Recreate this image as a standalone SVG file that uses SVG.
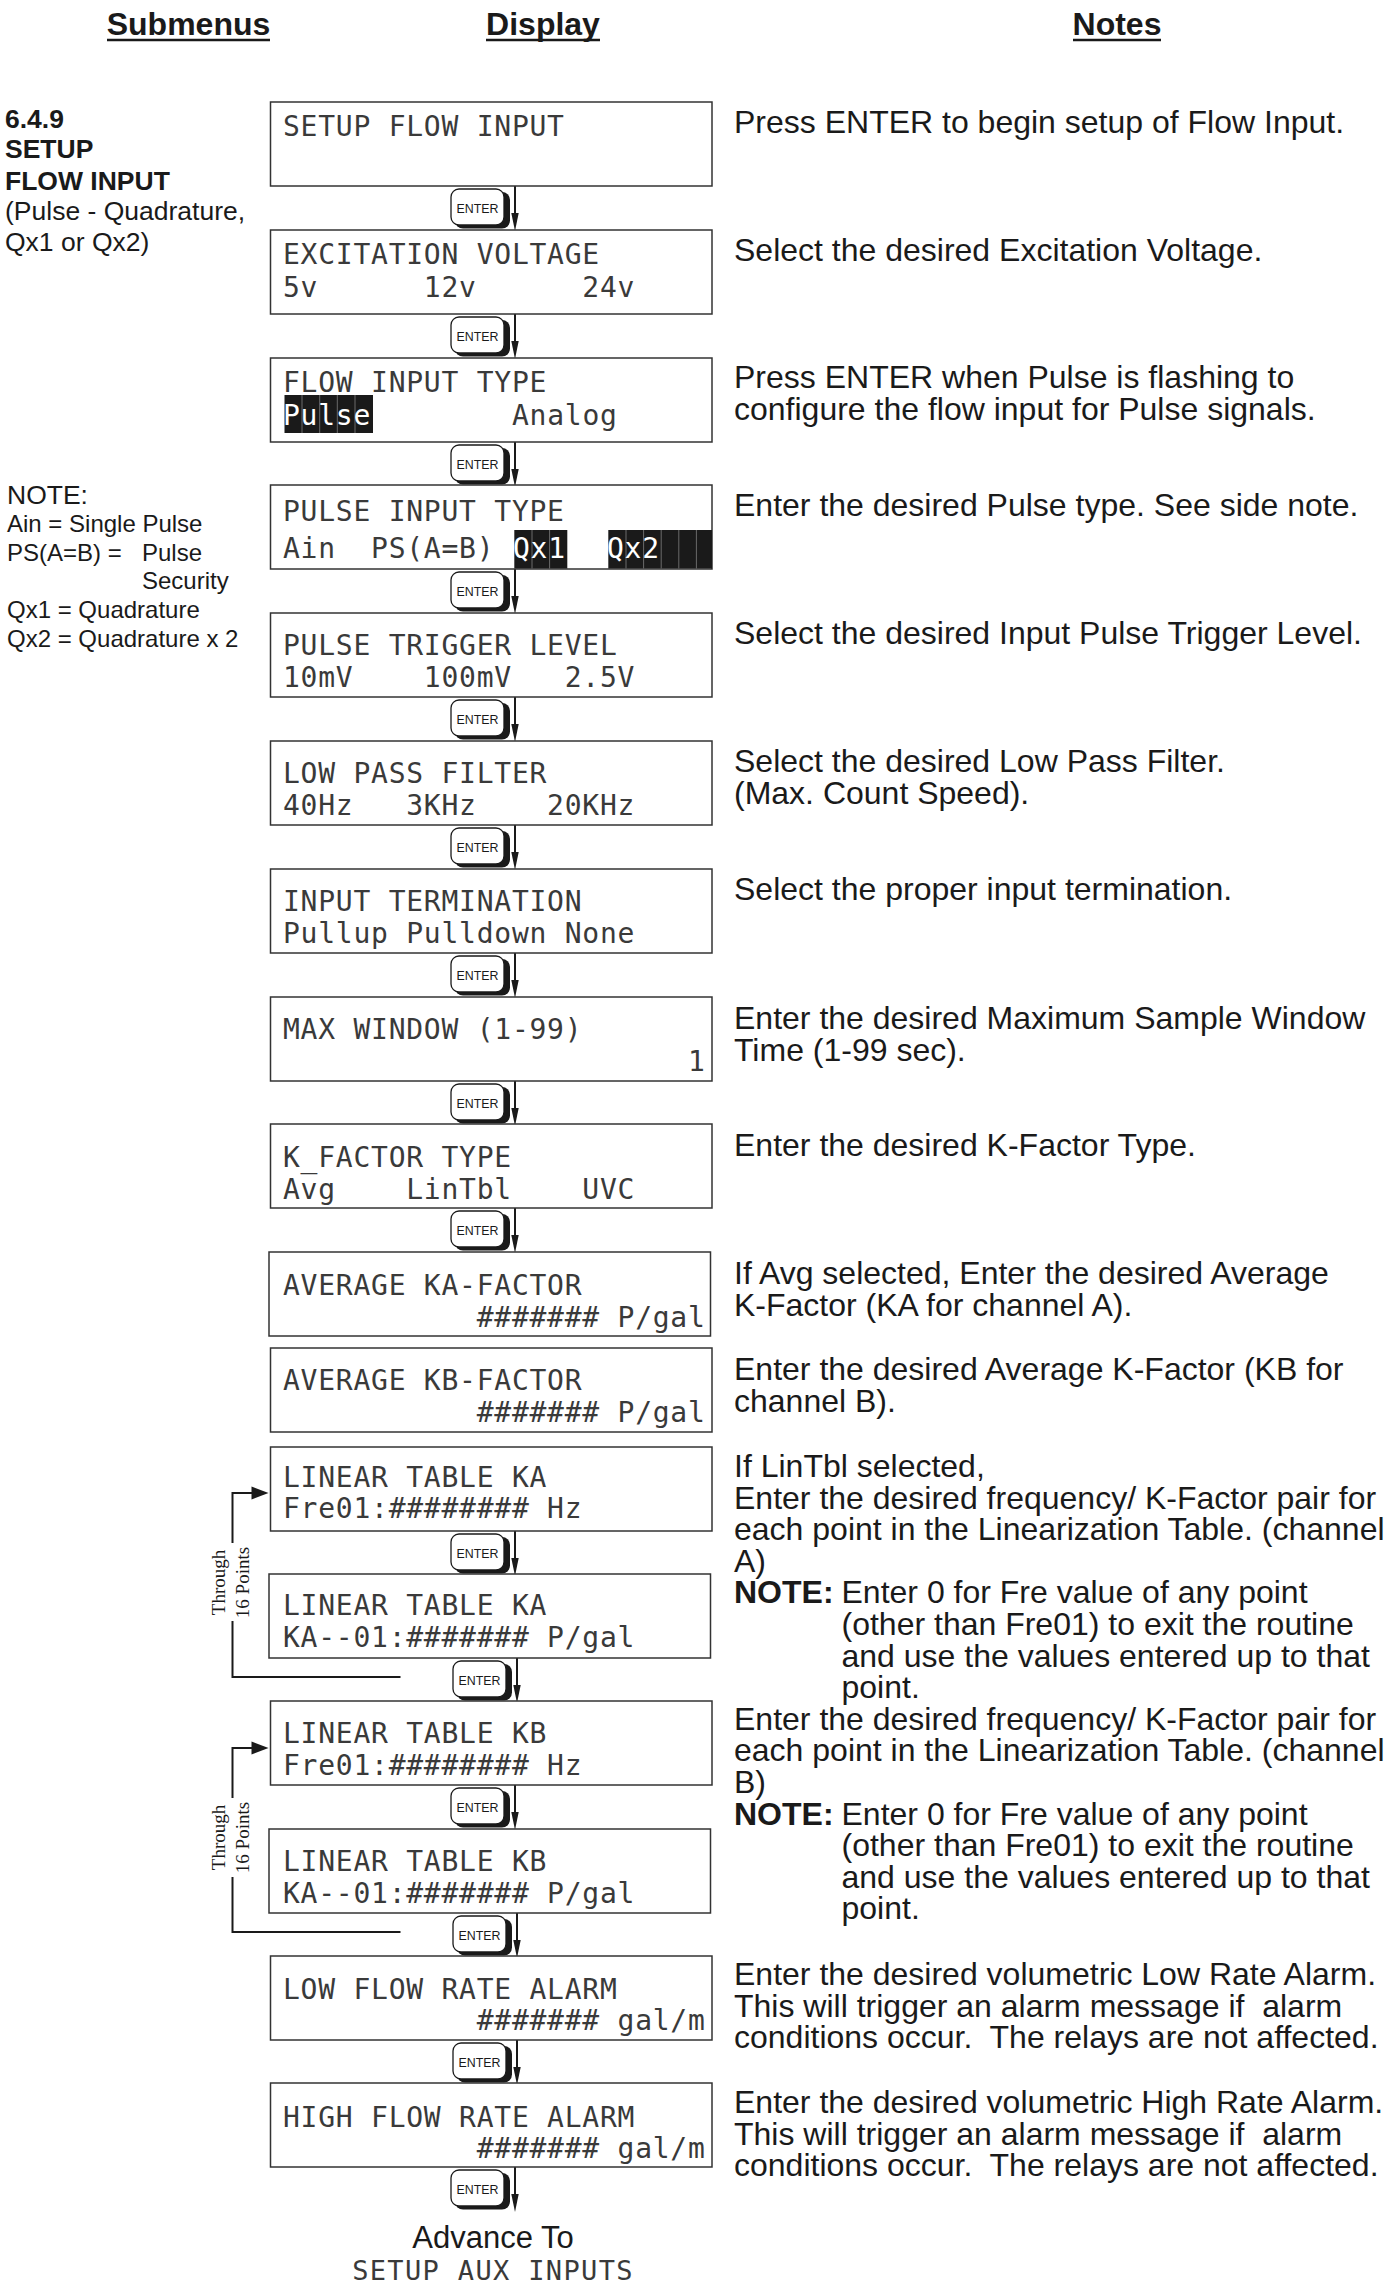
<svg xmlns="http://www.w3.org/2000/svg" xmlns:xlink="http://www.w3.org/1999/xlink" width="1400" height="2287" viewBox="0 0 1400 2287">
<style>
  .bg { fill: #ffffff; }
  .box { fill: #ffffff; stroke: #333333; stroke-width: 1.5; }
  .lcd { font-family: "DejaVu Sans Mono", "Liberation Mono", monospace; font-size: 28px; letter-spacing: 0.75px; fill: #3a3a3a; white-space: pre; }
  .lcdw { font-family: "DejaVu Sans Mono", "Liberation Mono", monospace; font-size: 28px; letter-spacing: 0.75px; fill: #ffffff; white-space: pre; }
  .hl { fill: #1a1a1a; }
  .sep { stroke: #6a6a6a; stroke-width: 1; }
  .hdr { font-family: "Liberation Sans", Arial, Helvetica, sans-serif; font-weight: bold; font-size: 32px; fill: #1a1a1a; text-anchor: middle; }
  .ul { stroke: #1a1a1a; stroke-width: 2.5; }
  .note { font-family: "Liberation Sans", Arial, Helvetica, sans-serif; font-size: 32px; fill: #1a1a1a; white-space: pre; }
  .noteb { font-family: "Liberation Sans", Arial, Helvetica, sans-serif; font-size: 32px; font-weight: bold; fill: #1a1a1a; }
  .sideb { font-family: "Liberation Sans", Arial, Helvetica, sans-serif; font-size: 26.5px; font-weight: bold; fill: #1a1a1a; }
  .side { font-family: "Liberation Sans", Arial, Helvetica, sans-serif; font-size: 26.5px; fill: #1a1a1a; }
  .sidenote { font-family: "Liberation Sans", Arial, Helvetica, sans-serif; font-size: 24px; fill: #1a1a1a; }
  .keytxt { font-family: "Liberation Sans", Arial, Helvetica, sans-serif; font-size: 13px; fill: #1a1a1a; text-anchor: middle; }
  .conn { stroke: #1a1a1a; stroke-width: 2; fill: none; }
  .head { fill: #1a1a1a; }
  .thr { font-family: "Liberation Serif", "Times New Roman", serif; font-size: 19px; fill: #1a1a1a; text-anchor: middle; }
  .adv { font-family: "Liberation Sans", Arial, Helvetica, sans-serif; font-size: 31px; fill: #1a1a1a; text-anchor: middle; }
</style>
<defs>
  <g id="key">
    <rect x="455" y="6" width="55" height="36.5" rx="8" fill="#1a1a1a"/>
    <rect x="451" y="3" width="53" height="36" rx="8" fill="#ffffff" stroke="#1a1a1a" stroke-width="1.3"/>
    <line x1="515" y1="0" x2="515" y2="29" stroke="#1a1a1a" stroke-width="2"/>
    <polygon points="511.3,27 518.7,27 515,45" fill="#1a1a1a"/>
  </g>
</defs>
<rect class="bg" x="0" y="0" width="1400" height="2287"/>

<g id="headers">
  <text class="hdr" x="188.5" y="35">Submenus</text>
  <line class="ul" x1="107" y1="40" x2="270" y2="40"/>
  <text class="hdr" x="543" y="35">Display</text>
  <line class="ul" x1="486" y1="40" x2="600" y2="40"/>
  <text class="hdr" x="1117" y="35">Notes</text>
  <line class="ul" x1="1073" y1="40" x2="1161" y2="40"/>
</g>

<g id="submenu-title">
  <text class="sideb" x="5" y="127.5">6.4.9</text>
  <text class="sideb" x="5" y="158.3">SETUP</text>
  <text class="sideb" x="5" y="190">FLOW INPUT</text>
  <text class="side" x="5" y="220">(Pulse - Quadrature,</text>
  <text class="side" x="5" y="251">Qx1 or Qx2)</text>
</g>

<g id="side-note">
  <text class="side" x="7" y="504">NOTE:</text>
  <text class="sidenote" x="7" y="532">Ain = Single Pulse</text>
  <text class="sidenote" x="7" y="561">PS(A=B) =</text>
  <text class="sidenote" x="142" y="561">Pulse</text>
  <text class="sidenote" x="142" y="589">Security</text>
  <text class="sidenote" x="7" y="618">Qx1 = Quadrature</text>
  <text class="sidenote" x="7" y="647">Qx2 = Quadrature x 2</text>
</g>

<g id="connectors">
  <use xlink:href="#key" transform="translate(0,186)"/>
  <use xlink:href="#key" transform="translate(0,314)"/>
  <use xlink:href="#key" transform="translate(0,442)"/>
  <use xlink:href="#key" transform="translate(0,569)"/>
  <use xlink:href="#key" transform="translate(0,697)"/>
  <use xlink:href="#key" transform="translate(0,825)"/>
  <use xlink:href="#key" transform="translate(0,953)"/>
  <use xlink:href="#key" transform="translate(0,1081)"/>
  <use xlink:href="#key" transform="translate(0,1208)"/>
  <use xlink:href="#key" transform="translate(0,1531)"/>
  <use xlink:href="#key" transform="translate(2,1658)"/>
  <use xlink:href="#key" transform="translate(0,1785)"/>
  <use xlink:href="#key" transform="translate(2,1913)"/>
  <use xlink:href="#key" transform="translate(2,2040)"/>
  <use xlink:href="#key" transform="translate(0,2167)"/>
  <text class="keytxt" x="477.5" y="213" textLength="42" lengthAdjust="spacingAndGlyphs">ENTER</text>
  <text class="keytxt" x="477.5" y="341" textLength="42" lengthAdjust="spacingAndGlyphs">ENTER</text>
  <text class="keytxt" x="477.5" y="469" textLength="42" lengthAdjust="spacingAndGlyphs">ENTER</text>
  <text class="keytxt" x="477.5" y="596" textLength="42" lengthAdjust="spacingAndGlyphs">ENTER</text>
  <text class="keytxt" x="477.5" y="724" textLength="42" lengthAdjust="spacingAndGlyphs">ENTER</text>
  <text class="keytxt" x="477.5" y="852" textLength="42" lengthAdjust="spacingAndGlyphs">ENTER</text>
  <text class="keytxt" x="477.5" y="980" textLength="42" lengthAdjust="spacingAndGlyphs">ENTER</text>
  <text class="keytxt" x="477.5" y="1108" textLength="42" lengthAdjust="spacingAndGlyphs">ENTER</text>
  <text class="keytxt" x="477.5" y="1235" textLength="42" lengthAdjust="spacingAndGlyphs">ENTER</text>
  <text class="keytxt" x="477.5" y="1558" textLength="42" lengthAdjust="spacingAndGlyphs">ENTER</text>
  <text class="keytxt" x="479.5" y="1685" textLength="42" lengthAdjust="spacingAndGlyphs">ENTER</text>
  <text class="keytxt" x="477.5" y="1812" textLength="42" lengthAdjust="spacingAndGlyphs">ENTER</text>
  <text class="keytxt" x="479.5" y="1940" textLength="42" lengthAdjust="spacingAndGlyphs">ENTER</text>
  <text class="keytxt" x="479.5" y="2067" textLength="42" lengthAdjust="spacingAndGlyphs">ENTER</text>
  <text class="keytxt" x="477.5" y="2194" textLength="42" lengthAdjust="spacingAndGlyphs">ENTER</text>

  <!-- loop channel A -->
  <polyline class="conn" points="400.5,1677 232.5,1677 232.5,1621"/>
  <polyline class="conn" points="232.5,1543 232.5,1493 253,1493"/>
  <polygon class="head" points="251.5,1486.5 268.5,1493 251.5,1499.5"/>
  <text class="thr" transform="translate(225,1582.5) rotate(-90)">Through</text>
  <text class="thr" transform="translate(249,1582.5) rotate(-90)">16 Points</text>

  <!-- loop channel B -->
  <polyline class="conn" points="400.5,1932 232.5,1932 232.5,1877"/>
  <polyline class="conn" points="232.5,1798 232.5,1748 253,1748"/>
  <polygon class="head" points="251.5,1741.5 268.5,1748 251.5,1754.5"/>
  <text class="thr" transform="translate(225,1837.5) rotate(-90)">Through</text>
  <text class="thr" transform="translate(249,1837.5) rotate(-90)">16 Points</text>
</g>

<g id="n01">
  <rect class="box" x="270.5" y="102" width="441.5" height="84"/>
  <text class="lcd" x="283" y="136">SETUP FLOW INPUT</text>
  <text class="note" x="734" y="132.6">Press ENTER to begin setup of Flow Input.</text>
</g>

<g id="n02">
  <rect class="box" x="270.5" y="230" width="441.5" height="84"/>
  <text class="lcd" x="283" y="264">EXCITATION VOLTAGE</text>
  <text class="lcd" x="283" y="297" xml:space="preserve">5v      12v      24v</text>
  <text class="note" x="734" y="260.5">Select the desired Excitation Voltage.</text>
</g>

<g id="n03">
  <rect class="box" x="270.5" y="358" width="441.5" height="84"/>
  <text class="lcd" x="283" y="392">FLOW INPUT TYPE</text>
  <rect class="hl" x="284.5" y="395" width="88.5" height="38"/>
  <line class="sep" x1="302" y1="395" x2="302" y2="433"/>
  <line class="sep" x1="319.7" y1="395" x2="319.7" y2="433"/>
  <line class="sep" x1="337.3" y1="395" x2="337.3" y2="433"/>
  <line class="sep" x1="355" y1="395" x2="355" y2="433"/>
  <text class="lcdw" x="283" y="425">Pulse</text>
  <text class="lcd" x="512" y="425">Analog</text>
  <text class="note" x="734" y="387.5">Press ENTER when Pulse is flashing to</text>
  <text class="note" x="734" y="419.5">configure the flow input for Pulse signals.</text>
</g>

<g id="n04">
  <rect class="box" x="270.5" y="485" width="441.5" height="84"/>
  <text class="lcd" x="283" y="521">PULSE INPUT TYPE</text>
  <text class="lcd" x="283" y="558" xml:space="preserve">Ain  PS(A=B)</text>
  <rect class="hl" x="514.3" y="530" width="53" height="38.5"/>
  <line class="sep" x1="532" y1="530" x2="532" y2="568.5"/>
  <line class="sep" x1="549.6" y1="530" x2="549.6" y2="568.5"/>
  <text class="lcdw" x="513" y="558">Qx1</text>
  <rect class="hl" x="608.3" y="530" width="103.7" height="38.5"/>
  <line class="sep" x1="626" y1="530" x2="626" y2="568.5"/>
  <line class="sep" x1="643.6" y1="530" x2="643.6" y2="568.5"/>
  <line class="sep" x1="661.2" y1="530" x2="661.2" y2="568.5"/>
  <line class="sep" x1="678.8" y1="530" x2="678.8" y2="568.5"/>
  <line class="sep" x1="696.4" y1="530" x2="696.4" y2="568.5"/>
  <text class="lcdw" x="607" y="558">Qx2</text>
  <text class="note" x="734" y="515.6">Enter the desired Pulse type. See side note.</text>
</g>

<g id="n05">
  <rect class="box" x="270.5" y="613" width="441.5" height="84"/>
  <text class="lcd" x="283" y="655">PULSE TRIGGER LEVEL</text>
  <text class="lcd" x="283" y="687" xml:space="preserve">10mV    100mV   2.5V</text>
  <text class="note" x="734" y="643.7">Select the desired Input Pulse Trigger Level.</text>
</g>

<g id="n06">
  <rect class="box" x="270.5" y="741" width="441.5" height="84"/>
  <text class="lcd" x="283" y="783">LOW PASS FILTER</text>
  <text class="lcd" x="283" y="815" xml:space="preserve">40Hz   3KHz    20KHz</text>
  <text class="note" x="734" y="772">Select the desired Low Pass Filter.</text>
  <text class="note" x="734" y="804">(Max. Count Speed).</text>
</g>

<g id="n07">
  <rect class="box" x="270.5" y="869" width="441.5" height="84"/>
  <text class="lcd" x="283" y="911">INPUT TERMINATION</text>
  <text class="lcd" x="283" y="943">Pullup Pulldown None</text>
  <text class="note" x="734" y="900">Select the proper input termination.</text>
</g>

<g id="n08">
  <rect class="box" x="270.5" y="997" width="441.5" height="84"/>
  <text class="lcd" x="283" y="1039">MAX WINDOW (1-99)</text>
  <text class="lcd" x="688" y="1071">1</text>
  <text class="note" x="734" y="1028.5">Enter the desired Maximum Sample Window</text>
  <text class="note" x="734" y="1060.5">Time (1-99 sec).</text>
</g>

<g id="n09">
  <rect class="box" x="270.5" y="1124" width="441.5" height="84"/>
  <text class="lcd" x="283" y="1167">K_FACTOR TYPE</text>
  <text class="lcd" x="283" y="1199" xml:space="preserve">Avg    LinTbl    UVC</text>
  <text class="note" x="734" y="1155.5">Enter the desired K-Factor Type.</text>
</g>

<g id="n10">
  <rect class="box" x="269" y="1252" width="441.5" height="84"/>
  <text class="lcd" x="283" y="1295">AVERAGE KA-FACTOR</text>
  <text class="lcd" x="283" y="1327" xml:space="preserve">           ####### P/gal</text>
  <text class="note" x="734" y="1283.5">If Avg selected, Enter the desired Average</text>
  <text class="note" x="734" y="1315.5">K-Factor (KA for channel A).</text>
</g>

<g id="n11">
  <rect class="box" x="270.5" y="1348" width="441.5" height="84"/>
  <text class="lcd" x="283" y="1390">AVERAGE KB-FACTOR</text>
  <text class="lcd" x="283" y="1422" xml:space="preserve">           ####### P/gal</text>
  <text class="note" x="734" y="1379.5">Enter the desired Average K-Factor (KB for</text>
  <text class="note" x="734" y="1411.5">channel B).</text>
</g>

<g id="n12">
  <rect class="box" x="270.5" y="1447" width="441.5" height="84"/>
  <text class="lcd" x="283" y="1487">LINEAR TABLE KA</text>
  <text class="lcd" x="283" y="1518">Fre01:######## Hz</text>
</g>

<g id="n13">
  <rect class="box" x="269" y="1574" width="441.5" height="84"/>
  <text class="lcd" x="283" y="1615">LINEAR TABLE KA</text>
  <text class="lcd" x="283" y="1647">KA--01:####### P/gal</text>
</g>

<g id="n14">
  <rect class="box" x="270.5" y="1701" width="441.5" height="84"/>
  <text class="lcd" x="283" y="1743">LINEAR TABLE KB</text>
  <text class="lcd" x="283" y="1775">Fre01:######## Hz</text>
</g>

<g id="n15">
  <rect class="box" x="269" y="1829" width="441.5" height="84"/>
  <text class="lcd" x="283" y="1871">LINEAR TABLE KB</text>
  <text class="lcd" x="283" y="1903">KA--01:####### P/gal</text>
</g>

<g id="lintbl-notes">
  <text class="note" x="734" y="1477">If LinTbl selected,</text>
  <text class="note" x="734" y="1508.6">Enter the desired frequency/ K-Factor pair for</text>
  <text class="note" x="734" y="1540.2">each point in the Linearization Table. (channel</text>
  <text class="note" x="734" y="1571.8">A)</text>
  <text class="noteb" x="734" y="1603.4">NOTE:</text>
  <text class="note" x="841.5" y="1603.4">Enter 0 for Fre value of any point</text>
  <text class="note" x="841.5" y="1635">(other than Fre01) to exit the routine</text>
  <text class="note" x="841.5" y="1666.6">and use the values entered up to that</text>
  <text class="note" x="841.5" y="1698.2">point.</text>
  <text class="note" x="734" y="1729.8">Enter the desired frequency/ K-Factor pair for</text>
  <text class="note" x="734" y="1761.4">each point in the Linearization Table. (channel</text>
  <text class="note" x="734" y="1793">B)</text>
  <text class="noteb" x="734" y="1824.6">NOTE:</text>
  <text class="note" x="841.5" y="1824.6">Enter 0 for Fre value of any point</text>
  <text class="note" x="841.5" y="1856.2">(other than Fre01) to exit the routine</text>
  <text class="note" x="841.5" y="1887.8">and use the values entered up to that</text>
  <text class="note" x="841.5" y="1919.4">point.</text>
</g>

<g id="n16">
  <rect class="box" x="270.5" y="1956" width="441.5" height="84"/>
  <text class="lcd" x="283" y="1999">LOW FLOW RATE ALARM</text>
  <text class="lcd" x="283" y="2030" xml:space="preserve">           ####### gal/m</text>
  <text class="note" x="734" y="1985" xml:space="preserve">Enter the desired volumetric Low Rate Alarm.</text>
  <text class="note" x="734" y="2016.6" xml:space="preserve">This will trigger an alarm message if  alarm</text>
  <text class="note" x="734" y="2048.2" xml:space="preserve">conditions occur.  The relays are not affected.</text>
</g>

<g id="n17">
  <rect class="box" x="270.5" y="2083" width="441.5" height="84"/>
  <text class="lcd" x="283" y="2127">HIGH FLOW RATE ALARM</text>
  <text class="lcd" x="283" y="2158" xml:space="preserve">           ####### gal/m</text>
  <text class="note" x="734" y="2113" xml:space="preserve">Enter the desired volumetric High Rate Alarm.</text>
  <text class="note" x="734" y="2144.6" xml:space="preserve">This will trigger an alarm message if  alarm</text>
  <text class="note" x="734" y="2176.2" xml:space="preserve">conditions occur.  The relays are not affected.</text>
</g>

<g id="advance">
  <text class="adv" x="493" y="2248">Advance To</text>
  <text class="lcd" x="493" y="2280" style="text-anchor:middle;font-size:27px;letter-spacing:1.35px">SETUP AUX INPUTS</text>
</g>
</svg>
